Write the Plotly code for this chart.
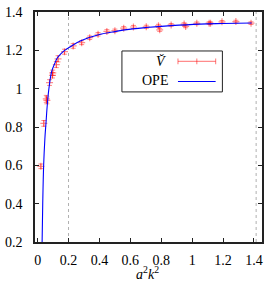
import plotly.graph_objects as go

# lattice data points
v_x = [0.021, 0.040, 0.056, 0.060, 0.077, 0.096, 0.098, 0.121, 0.132, 0.174, 0.230,
       0.285, 0.337, 0.391, 0.448, 0.500, 0.557, 0.620, 0.703, 0.782, 0.790, 0.864,
       0.948, 0.958, 1.030, 1.110, 1.119, 1.193, 1.283, 1.381]
v_y = [0.595, 0.819, 0.947, 0.939, 1.032, 1.070, 1.083, 1.126, 1.156, 1.193, 1.223,
       1.240, 1.266, 1.284, 1.299, 1.303, 1.316, 1.322, 1.323, 1.328, 1.307, 1.333,
       1.337, 1.325, 1.341, 1.342, 1.341, 1.349, 1.350, 1.342]
v_err = [0.012, 0.015, 0.018, 0.018, 0.015, 0.014, 0.014, 0.016, 0.016, 0.013, 0.012,
         0.010, 0.009, 0.009, 0.009, 0.008, 0.008, 0.008, 0.008, 0.008, 0.008, 0.007,
         0.007, 0.007, 0.007, 0.007, 0.007, 0.007, 0.007, 0.007]

# OPE curve
ope_x = [0.029, 0.033, 0.039, 0.047, 0.054, 0.063, 0.073, 0.091, 0.110, 0.127, 0.150,
         0.171, 0.200, 0.227, 0.280, 0.339, 0.400, 0.500, 0.615, 0.700, 0.864, 1.050,
         1.200, 1.385]
ope_y = [0.200, 0.400, 0.600, 0.740, 0.820, 0.920, 1.000, 1.090, 1.130, 1.160, 1.182,
         1.197, 1.213, 1.227, 1.250, 1.268, 1.283, 1.298, 1.312, 1.319, 1.329, 1.337,
         1.340, 1.343]

cut_lines = [0.2, 1.414]
x_ticks = [0, 0.2, 0.4, 0.6, 0.8, 1.0, 1.2, 1.4]
x_labels = ["0", "0.2", "0.4", "0.6", "0.8", "1", "1.2", "1.4"]
y_ticks = [0.2, 0.4, 0.6, 0.8, 1.0, 1.2, 1.4]
y_labels = ["0.2", "0.4", "0.6", "0.8", "1", "1.2", "1.4"]

RED = "rgba(255,0,0,0.45)"
FONT = "Liberation Serif"

fig = go.Figure()
for c in cut_lines:
    fig.add_trace(go.Scatter(x=[c, c], y=[0.2, 1.4], mode="lines",
                             line=dict(color="#b0b0b0", width=1, dash="dot"),
                             showlegend=False, hoverinfo="skip"))
fig.add_trace(go.Scatter(
    x=v_x, y=v_y, mode="markers",
    marker=dict(symbol="cross-thin", size=5, line=dict(color=RED, width=1.2), color=RED),
    error_y=dict(type="data", array=v_err, color=RED, thickness=1, width=2.5),
    showlegend=False))
fig.add_trace(go.Scatter(x=ope_x, y=ope_y, mode="lines", line=dict(color="#0000ff", width=1.1, shape="spline"),
                         showlegend=False))

# hand drawn legend (gnuplot style: text left, sample right)
L, R, T, B = 29, 264, 6, 242
def px(xp):
    return (xp - L) / (R - L)
def py(yp):
    return (B - yp) / (B - T)

shapes = [dict(type="rect", xref="paper", yref="paper", x0=px(119), x1=px(223), y0=py(88), y1=py(46),
               line=dict(color="#222", width=1), fillcolor="white", layer="above")]
yr, yb = py(56.7), py(77.3)
x0, x1, xm = px(177), px(216), px(196.5)
h = 3 / (B - T)
shapes += [
    dict(type="line", xref="paper", yref="paper", x0=x0, x1=x1, y0=yr, y1=yr, line=dict(color=RED, width=1.2)),
    dict(type="line", xref="paper", yref="paper", x0=x0, x1=x0, y0=yr - h, y1=yr + h, line=dict(color=RED, width=1.2)),
    dict(type="line", xref="paper", yref="paper", x0=x1, x1=x1, y0=yr - h, y1=yr + h, line=dict(color=RED, width=1.2)),
    dict(type="line", xref="paper", yref="paper", x0=xm, x1=xm, y0=yr - h, y1=yr + h, line=dict(color=RED, width=1.2)),
    dict(type="line", xref="paper", yref="paper", x0=x0, x1=x1, y0=yb, y1=yb, line=dict(color="#0000ff", width=1.2)),
]
annotations = [
    dict(xref="paper", yref="paper", x=px(167), y=py(57), xanchor="right", yanchor="middle",
         text="<i>V̌</i>", showarrow=False, font=dict(family=FONT, size=14, color="black")),
    dict(xref="paper", yref="paper", x=px(169), y=py(76), xanchor="right", yanchor="middle",
         text="OPE", showarrow=False, font=dict(family=FONT, size=14, color="black")),
    dict(xref="paper", yref="paper", x=px(145), y=py(274), xanchor="center", yanchor="middle",
         text="<i>a</i><sup>2</sup><i>k</i><sup>2</sup>", showarrow=False,
         font=dict(family=FONT, size=14, color="black")),
]

axis_common = dict(showline=True, linecolor="#222", linewidth=1.5, mirror="allticks",
                   ticks="inside", ticklen=4, tickcolor="#222", showgrid=False, zeroline=False,
                   ticklabeloverflow="allow",
                   tickfont=dict(family=FONT, size=14, color="black"))
fig.update_layout(
    width=269, height=282, margin=dict(l=L, r=269 - R, t=T, b=282 - B),
    plot_bgcolor="white", paper_bgcolor="white",
    font=dict(family=FONT, size=14, color="black"),
    xaxis=dict(range=[-0.017, 1.452], tickvals=x_ticks, ticktext=x_labels, ticklabelstandoff=4,
               **axis_common),
    yaxis=dict(range=[0.2, 1.4002], tickvals=y_ticks, ticktext=y_labels, ticklabelstandoff=8,
               **axis_common),
    shapes=shapes, annotations=annotations,
)
fig.write_html("out.html", config={"displayModeBar": False},
               post_script="document.body.style.margin='0px';document.body.style.overflow='hidden';")
